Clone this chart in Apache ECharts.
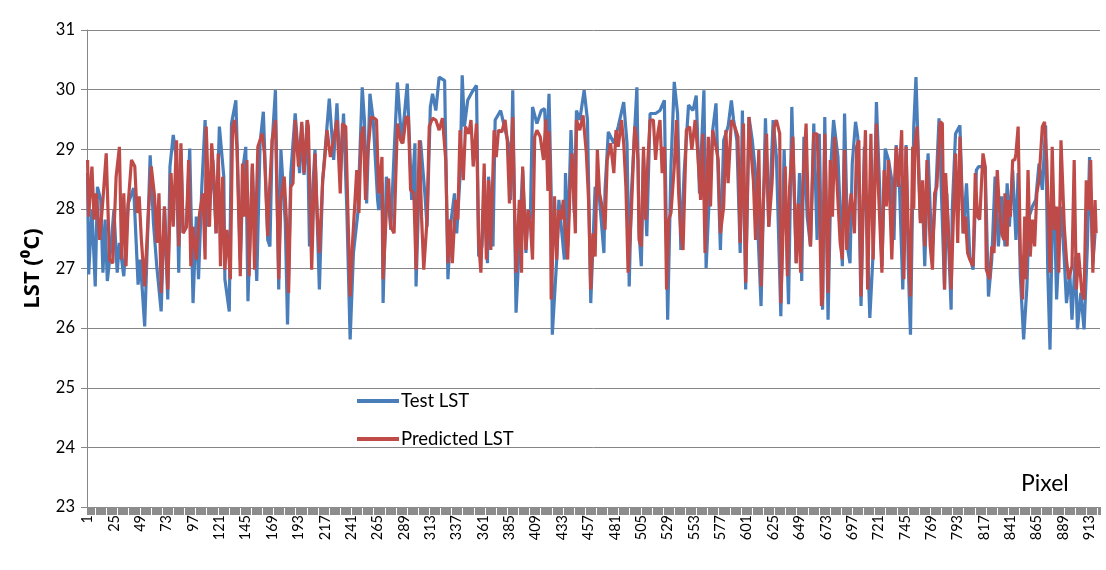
<!DOCTYPE html>
<html>
<head>
<meta charset="utf-8">
<script src="https://cdn.jsdelivr.net/npm/echarts@6/dist/echarts.min.js"></script>
<style>
html,body{margin:0;padding:0;background:#fff;}
#chart{width:1106px;height:570px;}
</style>
</head>
<body>
<div id="chart"></div>
<script>
// ---- data (pixel number, LST in degrees C) ----
const pixelCount = 922;
const yMin = 23, yMax = 31, yStep = 1;
const xLabelEvery = 24;
const seriesNames = ['Test LST', 'Predicted LST'];
const seriesColors = ['#4A7EBB', '#BE4B48'];

const testLst = [
[1,28.60],[2,26.90],[5,27.98],[8,26.70],[10,28.37],[13,28.15],[15,26.93],[17,27.82],[19,26.79],[22,27.31],
[25,27.98],[28,26.93],[30,27.43],[34,26.87],[38,28.09],[43,28.35],[47,26.73],[49,27.15],[53,26.03],[58,28.90],
[61,27.76],[64,27.04],[68,26.28],[71,28.04],[74,26.48],[76,28.71],[79,29.24],[82,28.82],[84,26.93],[86,29.00],
[88,27.60],[91,27.70],[94,29.01],[97,26.42],[100,27.87],[102,26.82],[105,28.37],[108,29.49],[111,27.70],[115,28.82],
[118,27.59],[121,29.38],[125,28.54],[126,26.82],[130,26.28],[132,29.43],[136,29.82],[140,27.15],[143,28.76],[145,29.04],
[147,26.45],[151,28.71],[155,26.79],[158,29.10],[161,29.63],[165,27.48],[167,27.37],[169,29.10],[172,29.99],[175,26.65],
[177,28.99],[181,27.76],[183,26.06],[186,28.60],[190,29.60],[194,28.60],[196,29.40],[198,28.57],[201,29.49],[203,27.37],
[208,28.99],[212,26.65],[215,28.48],[221,29.85],[225,28.82],[228,29.77],[231,28.54],[234,29.60],[237,27.98],[240,25.81],
[243,27.26],[247,27.93],[251,30.04],[253,29.49],[255,28.09],[258,29.93],[261,29.49],[265,28.15],[266,27.98],[269,28.43],
[270,26.42],[273,28.54],[277,27.65],[280,28.93],[283,30.12],[287,29.10],[292,30.10],[296,28.15],[299,29.10],[300,26.70],
[304,29.15],[308,28.26],[310,27.70],[313,29.71],[315,29.93],[318,29.65],[321,30.21],[326,30.15],[329,26.82],[332,27.82],
[335,28.26],[337,27.59],[340,28.54],[342,30.24],[344,29.38],[347,29.82],[351,29.96],[355,30.07],[357,27.20],[360,27.37],
[362,28.26],[365,27.09],[366,28.54],[370,27.37],[372,29.49],[377,29.65],[379,29.49],[384,29.10],[386,28.15],[388,29.99],
[391,26.26],[393,27.04],[397,28.65],[400,27.26],[402,27.98],[404,27.82],[406,29.71],[410,29.43],[414,29.65],[417,29.68],
[419,28.90],[421,29.93],[423,28.26],[424,25.89],[428,27.15],[430,28.15],[433,27.54],[435,27.15],[436,28.60],[438,27.37],
[441,29.32],[444,27.93],[446,29.65],[449,29.49],[453,29.99],[456,29.49],[459,26.42],[463,28.37],[467,28.15],[471,27.26],
[472,28.32],[475,29.29],[480,29.10],[484,29.38],[489,29.79],[492,29.10],[494,26.70],[496,28.26],[501,30.04],[503,27.60],
[505,27.04],[507,28.87],[510,27.54],[513,29.60],[518,29.60],[522,29.65],[526,29.82],[529,26.14],[532,28.71],[535,30.13],
[538,29.60],[541,27.31],[544,28.60],[548,29.74],[552,29.65],[555,29.90],[558,28.26],[562,29.99],[564,27.01],[567,28.26],
[570,29.32],[573,29.77],[577,27.31],[580,29.15],[584,29.38],[587,29.82],[589,29.49],[592,29.15],[595,27.26],[597,29.65],
[600,26.65],[603,29.54],[606,29.15],[609,28.60],[614,26.37],[618,29.52],[621,27.70],[625,29.49],[628,28.87],[632,26.20],
[635,28.99],[639,26.40],[642,29.71],[646,27.09],[649,28.60],[651,26.79],[653,29.21],[656,27.87],[659,27.37],[662,29.43],
[665,27.48],[667,29.26],[670,26.31],[672,29.54],[675,26.14],[678,28.87],[680,29.49],[684,28.87],[688,27.04],[690,29.60],
[693,27.31],[695,27.09],[697,28.76],[700,29.46],[702,29.21],[705,26.37],[708,29.04],[713,26.17],[716,27.26],[719,29.79],
[722,28.32],[724,27.04],[727,29.01],[730,28.82],[733,28.48],[735,27.48],[737,29.07],[740,28.37],[743,26.65],[746,29.07],
[748,27.04],[750,25.89],[753,29.38],[755,30.21],[759,27.82],[761,28.15],[763,27.04],[766,28.93],[768,27.98],[770,27.37],
[773,28.26],[776,29.52],[781,26.65],[783,28.26],[787,26.31],[788,27.98],[791,29.26],[795,29.40],[798,27.59],[801,28.43],
[804,27.20],[807,26.98],[810,28.65],[812,28.71],[815,28.71],[818,28.71],[821,26.53],[824,27.15],[827,28.54],[830,27.37],
[833,28.21],[836,27.37],[838,28.43],[840,27.70],[843,28.65],[846,27.48],[848,28.60],[850,26.87],[853,25.81],[856,26.70],
[858,27.87],[861,28.04],[864,28.15],[867,28.76],[870,28.32],[873,29.40],[875,26.93],[877,25.64],[879,27.70],[881,28.04],
[883,26.48],[887,28.04],[890,27.15],[892,26.42],[895,26.93],[897,26.14],[900,27.20],[902,25.98],[905,26.59],[908,25.98],
[911,27.37],[913,28.87],[916,27.09],[918,27.59]
];

const predictedLst = [
[1,28.82],[2,27.87],[5,28.71],[7,27.82],[9,28.26],[12,27.48],[15,28.15],[18,28.93],[21,27.15],[24,27.09],
[27,28.54],[30,29.04],[32,27.15],[34,28.26],[36,27.04],[38,28.09],[41,28.82],[44,28.71],[46,27.93],[48,28.21],
[50,27.48],[53,26.70],[56,27.82],[59,28.71],[62,28.21],[64,27.43],[66,28.26],[68,26.59],[71,28.04],[74,26.65],
[77,28.60],[79,27.70],[82,29.15],[84,27.37],[86,29.10],[88,27.59],[91,27.70],[93,28.82],[95,27.04],[97,27.70],
[100,27.15],[103,27.93],[106,28.26],[108,27.15],[109,29.38],[112,27.70],[114,29.10],[116,28.54],[118,27.59],[120,28.93],
[122,27.04],[124,28.54],[126,26.98],[128,27.65],[131,26.82],[133,29.38],[135,29.49],[137,29.04],[140,26.87],[142,28.76],
[144,27.87],[146,28.82],[148,26.87],[151,28.76],[153,26.98],[156,29.04],[160,29.26],[162,28.93],[165,27.54],[166,28.09],
[169,29.15],[172,29.49],[175,26.82],[177,28.15],[180,28.54],[182,27.82],[184,26.59],[186,28.37],[188,28.43],[190,29.49],
[193,28.71],[196,29.46],[198,28.60],[201,29.49],[202,29.38],[205,26.98],[208,28.93],[210,27.93],[212,27.26],[215,28.48],
[217,28.87],[219,29.32],[222,28.87],[225,29.15],[228,29.49],[231,28.26],[233,29.43],[236,29.38],[238,27.93],[240,26.53],
[242,27.37],[246,28.65],[248,27.93],[250,29.21],[252,29.38],[254,28.15],[256,28.93],[259,29.54],[262,29.52],[264,29.49],
[266,28.26],[269,28.87],[270,26.82],[273,27.98],[275,28.51],[277,27.70],[280,27.59],[283,29.43],[286,29.15],[288,29.10],
[291,29.54],[293,29.54],[295,28.32],[298,28.26],[300,26.98],[303,29.15],[305,27.87],[307,26.98],[310,27.82],[312,29.38],
[315,29.52],[318,29.49],[321,29.32],[324,29.52],[327,28.82],[329,27.09],[331,27.82],[333,27.09],[336,28.15],[338,27.82],
[340,29.32],[343,28.48],[345,29.38],[348,29.26],[350,29.49],[352,28.71],[355,29.43],[357,27.43],[359,26.93],[362,28.76],
[364,27.15],[366,28.48],[368,27.31],[371,29.32],[373,28.87],[375,29.32],[378,29.29],[381,29.49],[383,29.15],[385,28.09],
[388,29.54],[390,27.70],[391,26.93],[394,28.15],[396,26.93],[397,28.71],[400,27.31],[402,27.98],[404,27.76],[406,27.15],
[408,29.21],[410,29.32],[413,29.21],[416,28.82],[418,29.50],[420,28.30],[421,29.30],[422,28.65],[423,26.48],[426,28.21],
[428,27.15],[430,27.98],[432,27.82],[434,28.15],[436,27.59],[438,27.15],[440,28.26],[442,28.93],[445,27.59],[446,29.49],
[449,29.32],[452,29.57],[455,28.93],[457,28.15],[459,26.65],[461,27.59],[463,27.20],[465,28.99],[467,28.26],[470,27.98],
[472,27.65],[474,28.82],[477,29.10],[480,28.60],[482,29.32],[484,29.04],[487,29.49],[489,29.10],[491,28.37],[493,26.93],
[496,27.98],[499,29.38],[501,29.10],[502,28.82],[503,27.48],[505,27.37],[507,29.04],[509,27.82],[511,28.82],[513,29.49],
[516,29.49],[518,28.82],[520,29.26],[522,29.49],[524,28.60],[526,29.04],[528,26.65],[530,27.82],[532,27.93],[535,28.71],
[537,29.49],[539,28.26],[541,27.59],[543,27.31],[546,29.32],[549,29.38],[551,28.99],[554,29.49],[556,29.04],[559,28.15],
[561,29.26],[563,27.26],[566,29.21],[568,28.04],[570,29.32],[573,29.04],[575,28.82],[577,27.59],[580,28.04],[582,29.32],
[584,28.43],[587,29.49],[590,29.38],[593,29.21],[595,27.43],[598,29.43],[600,26.76],[603,29.54],[605,28.93],[607,28.48],
[609,27.48],[612,28.99],[614,26.70],[616,28.09],[619,29.26],[621,27.70],[624,28.43],[626,29.38],[628,29.49],[631,29.26],
[632,26.42],[634,27.59],[636,28.71],[638,26.87],[640,28.37],[643,29.21],[646,27.09],[648,28.09],[650,26.93],[652,28.37],
[655,29.43],[657,27.93],[659,27.37],[662,29.26],[665,29.26],[667,28.26],[669,26.37],[670,26.50],[672,29.26],[675,26.59],
[677,28.82],[679,27.87],[681,29.21],[683,28.48],[686,27.43],[688,27.15],[690,28.99],[692,27.31],[694,27.93],[696,28.26],
[699,27.59],[701,29.04],[703,29.15],[705,26.53],[707,28.15],[709,29.32],[711,26.65],[714,29.26],[716,27.15],[719,29.43],
[721,28.26],[724,26.93],[726,28.65],[728,28.04],[730,28.82],[733,27.15],[735,28.26],[737,29.04],[739,28.37],[742,29.32],
[744,26.82],[746,29.04],[748,27.59],[750,26.53],[752,29.04],[753,28.00],[754,29.10],[756,29.38],[759,27.76],[761,28.48],
[763,27.37],[765,28.82],[768,27.37],[770,26.98],[772,28.26],[774,28.37],[777,29.46],[779,29.43],[781,26.65],[782,28.60],
[785,27.48],[787,26.65],[789,27.82],[791,28.93],[793,27.43],[795,29.21],[798,27.59],[800,27.87],[802,27.26],[804,27.15],
[807,27.04],[809,28.60],[811,27.87],[813,27.82],[816,28.93],[818,28.71],[819,26.98],[822,26.82],[824,27.37],[826,27.26],
[829,28.65],[831,27.98],[833,27.59],[835,27.48],[836,28.26],[838,27.37],[839,28.15],[841,27.87],[843,28.82],[845,28.82],
[846,28.93],[848,29.38],[850,27.26],[852,26.48],[854,27.87],[855,26.82],[857,28.65],[859,27.20],[861,27.82],[863,27.37],
[865,28.26],[867,28.48],[870,29.38],[872,29.46],[874,28.82],[877,26.93],[879,29.04],[881,27.65],[883,28.04],[885,26.93],
[887,29.15],[890,27.70],[892,27.15],[894,26.82],[897,27.04],[899,28.82],[901,26.65],[903,27.26],[906,26.59],[908,26.48],
[910,28.48],[912,27.98],[914,28.82],[916,26.93],[918,28.15],[919,27.59]
];

const categories = [];
for (let i = 1; i <= pixelCount; i++) categories.push(String(i));

// ---- chart ----
const FONT = 'Lato, "Open Sans", "Liberation Sans", sans-serif';
const chart = echarts.init(document.getElementById('chart'), null, {renderer: 'canvas'});
const toData = arr => arr.map(p => [p[0] - 1, p[1]]);

chart.setOption({
  animation: false,
  backgroundColor: '#ffffff',
  textStyle: {fontFamily: FONT},
  grid: {left: 87, right: 6, top: 30, bottom: 63, containLabel: false},
  legend: {
    orient: 'vertical',
    left: 352,
    top: 385,
    itemWidth: 42,
    itemHeight: 4,
    itemGap: 16,
    icon: 'rect',
    textStyle: {fontFamily: FONT, fontSize: 18.5, color: '#000', lineHeight: 22, padding: [0, 0, 0, -3]},
    data: seriesNames
  },
  xAxis: {
    type: 'category',
    data: categories,
    boundaryGap: true,
    axisLine: {show: true, lineStyle: {color: '#868686', width: 1}},
    axisTick: {show: true, interval: 0, length: 8, lineStyle: {color: '#8c8c8c', width: 1}},
    axisLabel: {interval: xLabelEvery - 1, rotate: 90, fontSize: 14.5, color: '#000', fontFamily: FONT, margin: 8},
    splitLine: {show: false}
  },
  yAxis: {
    type: 'value',
    min: yMin, max: yMax, interval: yStep,
    name: 'LST (\u2070C)',
    nameLocation: 'middle',
    nameGap: 43,
    nameTextStyle: {fontFamily: '"Open Sans", Lato, sans-serif', fontSize: 22, fontWeight: 'bold', color: '#000'},
    axisLine: {show: true, lineStyle: {color: '#868686', width: 1}},
    axisTick: {show: true, length: 6, inside: false, lineStyle: {color: '#868686'}},
    axisLabel: {fontSize: 16.5, color: '#000', fontFamily: FONT, margin: 12},
    splitLine: {show: true, lineStyle: {color: '#868686', width: 1}}
  },
  series: [
    {
      name: seriesNames[0], type: 'line', data: toData(testLst),
      showSymbol: false, symbol: 'none',
      lineStyle: {color: seriesColors[0], width: 3.2}, itemStyle: {color: seriesColors[0]},
      z: 2
    },
    {
      name: seriesNames[1], type: 'line', data: toData(predictedLst),
      showSymbol: false, symbol: 'none',
      lineStyle: {color: seriesColors[1], width: 3.2}, itemStyle: {color: seriesColors[1]},
      z: 3
    }
  ],
  graphic: [{
    type: 'text', left: 1021, top: 472,
    style: {text: 'Pixel', fontSize: 23, fontFamily: FONT, fill: '#000'}
  }]
});
</script>
</body>
</html>
